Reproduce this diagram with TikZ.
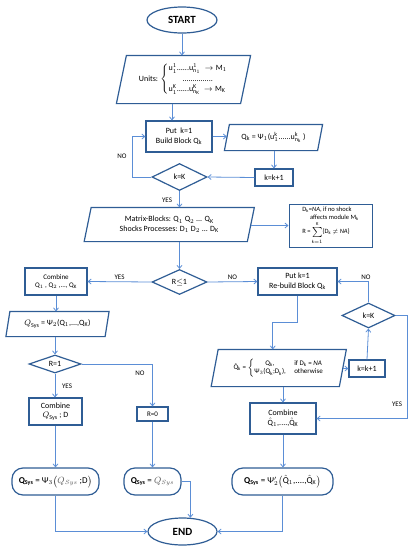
\documentclass[tikz,border=0pt]{standalone}
\usepackage{fontspec}
\setmainfont{Carlito}
\usetikzlibrary{shapes.geometric,arrows.meta,calc}
\definecolor{boxc}{HTML}{2F5D95}
\definecolor{arrc}{HTML}{5B8ED6}
\definecolor{grq}{HTML}{555555}
\newcommand{\PsiT}{\hbox{Ψ}}
\newcommand{\rmk}[1]{\mathrm{#1}}
\newcommand{\Qh}{\hat{\mathrm{Q}}}
\begin{document}
\begin{tikzpicture}[x=1pt,y=-1pt,
  base/.style={draw=boxc, line width=1.2pt, fill=white, align=center, inner sep=1pt,
    font=\fontsize{8}{9.5}\selectfont},
  proc/.style={base, rectangle},
  paratext/.style={base, rectangle, draw=none, fill=none},
  dec/.style={base, diamond, inner sep=0pt},
  term/.style={base, ellipse, inner sep=0pt},
  res/.style={base, rectangle, rounded corners=11pt, font=\fontsize{9}{10}\selectfont},
  arr/.style={draw=arrc, line width=0.8pt, -{Straight Barb[length=3pt,width=5pt]}},
  lab/.style={font=\fontsize{7}{8}\selectfont, inner sep=0pt},
  parab/.style={draw=boxc, line width=1.2pt}
]
\path[use as bounding box] (0,0) rectangle (411,550);

% nodes
\node[term, minimum width=70pt, minimum height=26pt, font=\bfseries\fontsize{11}{12}\selectfont] (start) at (182,20) {START};
\node[paratext, minimum width=123pt, minimum height=47pt] (units) at (183.5,79.5)
  {Units: $\left\{\begin{array}{@{}l@{}}
    \rmk{u}^1_1\mbox{......}\rmk{u}^1_{\rmk{n}_1}\ \rightarrow\rmk{M}_1\\[1pt]
    \multicolumn{1}{c}{\mbox{...............}}\\[1pt]
    \rmk{u}^{\rmk{K}}_1\mbox{......}\rmk{u}^{\rmk{K}}_{\rmk{n}_{\rmk{K}}}\ \rightarrow\rmk{M}_{\rmk{K}}
  \end{array}\right.$};
\node[proc, minimum width=66pt, minimum height=31pt] (put1) at (179,136.5)
  {Put\ \ k=1\\Build Block Q$_\rmk{k}$};
\node[paratext, minimum width=92pt, minimum height=25pt] (qk) at (273.5,137.5)
  {Q$_\rmk{k}$ = \PsiT$_1$(u$^\rmk{k}_1$......u$^\rmk{k}_{\rmk{n}_\rmk{k}}$ )};
\node[proc, minimum width=38pt, minimum height=17pt] (kk1) at (274,177.5) {k=k+1};
\node[dec, minimum width=55pt, minimum height=27pt] (dec1) at (179.5,177) {k=K};
\node[paratext, minimum width=162pt, minimum height=33pt] (matrix) at (169.25,224.5)
  {Matrix-Blocks: Q$_1$ Q$_2$ ... Q$_\rmk{K}$\\Shocks Processes: D$_1$ D$_2$ ... D$_\rmk{K}$};
\node[proc, line width=1pt, minimum width=83pt, minimum height=43pt, align=left,
  font=\fontsize{6.5}{7.5}\selectfont] (note) at (330.5,225.5)
  {D$_\rmk{k}$=\textit{NA}, if no shock\\\hspace{1.2em}affects module M$_\rmk{k}$\\
   R = $\sum\limits_{\rmk{k}=1}^{\rmk{K}}$\{D$_\rmk{k}$ $\neq$ \textit{NA}\}};
\node[dec, minimum width=55pt, minimum height=25pt] (dec2) at (179.5,282) {R$\leq$1};
\node[proc, minimum width=62pt, minimum height=27pt, font=\fontsize{7}{8.5}\selectfont] (comb1) at (56,281.5)
  {Combine\\Q$_1$ , Q$_2$ ,..., Q$_\rmk{K}$};
\node[proc, minimum width=79pt, minimum height=27pt] (rebuild) at (297.5,281.5)
  {Put k=1\\Re-build Block Q$_\rmk{k}$};
\node[paratext, minimum width=98pt, minimum height=24pt] (qsys) at (57.5,324)
  {$Q_{\rmk{Sys}}$ = \PsiT$_2$(Q$_1$,...,Q$_\rmk{K}$)};
\node[dec, minimum width=52pt, minimum height=18pt] (dec3) at (55,364) {R=1};
\node[proc, minimum width=53pt, minimum height=27pt] (comb2) at (55.5,411.5)
  {Combine\\$Q_{\rmk{Sys}}$ ; D};
\node[proc, minimum width=31pt, minimum height=14pt, font=\fontsize{7}{8}\selectfont] (r0) at (152.5,414) {R=0};
\node[paratext, minimum width=127pt, minimum height=36pt, font=\fontsize{7}{8.5}\selectfont] (qhat) at (278.75,368)
  {$\Qh_\rmk{k}$ = $\left\{\begin{tabular}{@{}c@{\hspace{1.2em}}l@{}}
   Q$_\rmk{k}$, & if D$_\rmk{k}$ = \textit{NA}\\
   \PsiT$_3$(Q$_\rmk{k}$;D$_\rmk{k}$), & otherwise\end{tabular}\right.$};
\node[proc, minimum width=36pt, minimum height=17pt] (kk2) at (367,368.5) {k=k+1};
\node[dec, minimum width=53pt, minimum height=25pt] (dec4) at (368.5,315.5) {k=K};
\node[proc, minimum width=66pt, minimum height=31pt] (comb3) at (283,418.5)
  {Combine\\$\Qh_1$,....,$\Qh_\rmk{K}$};
\node[res, minimum width=87pt, minimum height=27pt] (t1) at (55.5,481.5)
  {{\bfseries Q\textsubscript{Sys}} = \PsiT$_3\bigl(${\color{grq}$Q_{Sys}$} ;D$\bigr)$};
\node[res, minimum width=57pt, minimum height=27pt] (t2) at (152.5,481.5)
  {{\bfseries Q\textsubscript{Sys}} = {\color{grq}$Q_{Sys}$}};
\node[res, minimum width=101pt, minimum height=27pt] (t3) at (282.5,481.5)
  {{\bfseries Q\textsubscript{Sys}} = \PsiT$'_2\bigl(\Qh_1$,....,$\Qh_\rmk{K}\bigr)$};
\node[term, minimum width=69pt, minimum height=27pt, font=\bfseries\fontsize{11}{12}\selectfont] (end) at (182.5,531.5) {END};

% parallelogram outlines
\foreach \n/\s in {units/10, qk/5, matrix/7, qsys/4, qhat/7}{
  \draw[parab] ($(\n.north west)+(\s/2,0)$) -- ($(\n.north east)+(\s/2,0)$)
    -- ($(\n.south east)+(-\s/2,0)$) -- ($(\n.south west)+(-\s/2,0)$) -- cycle;
}

% connectors
\draw[arr] (start) -- (start |- units.north);
\draw[arr] ([xshift=-7pt]put1.north |- units.south) -- ([xshift=-7pt]put1.north);
\draw[arr] (put1.east) -- (put1.east -| qk.west);
\draw[arr] (qk.south -| kk1.north) -- (kk1.north);
\draw[arr] (kk1.west) -- (dec1.east);
\draw[arr] (dec1.west) -- ++(-19,0) coordinate (c1) |- (put1.west);
\node[lab] at (122,156) {NO};
\draw[arr] (dec1.south) -- (dec1.south |- matrix.north);
\node[lab] at (167,200) {YES};
\draw[arr] (matrix.east |- note.west) -- (note.west);
\draw[arr] (matrix.south -| dec2.north) -- (dec2.north);
\draw[arr] (dec2.west) -- (comb1.east) node[lab, midway, above=2pt] {YES};
\draw[arr] (dec2.east) -- (rebuild.west) node[lab, midway, above=2pt] {NO};
\draw[arr] (comb1.south) -- (comb1.south |- qsys.north);
\draw[arr] (qsys.south -| dec3.north) -- (dec3.north);
\draw[arr] (dec3.east) -| (r0.north);
\node[lab] at (140,373) {NO};
\draw[arr] (dec3.south) -- (dec3.south |- comb2.north);
\node[lab] at (67,386) {YES};
\draw[arr] (rebuild.south) -- ++(0,27) -| ([xshift=-6pt]qhat.north);
\draw[arr] (qhat.east |- kk2.west) -- (kk2.west);
\draw[arr] (kk2.north) -- (dec4.south);
\draw[arr] (dec4.north) |- (rebuild.east);
\node[lab] at (366,277) {NO};
\draw[arr] (dec4.east) -- ++(12,0) |- (comb3.east);
\node[lab] at (397,404) {YES};
\draw[arr] (qhat.south -| comb3.north) -- (comb3.north);
\draw[arr] (comb2.south) -- (comb2.south |- t1.north);
\draw[arr] (r0.south) -- (r0.south |- t2.north);
\draw[arr] (comb3.south) -- (comb3.south |- t3.north);
\draw[arr] (t1.south) |- (end.west);
\draw[arr] (t2.east) -| (end.60);
\draw[arr] (t3.south) |- (end.east);
\end{tikzpicture}
\end{document}
